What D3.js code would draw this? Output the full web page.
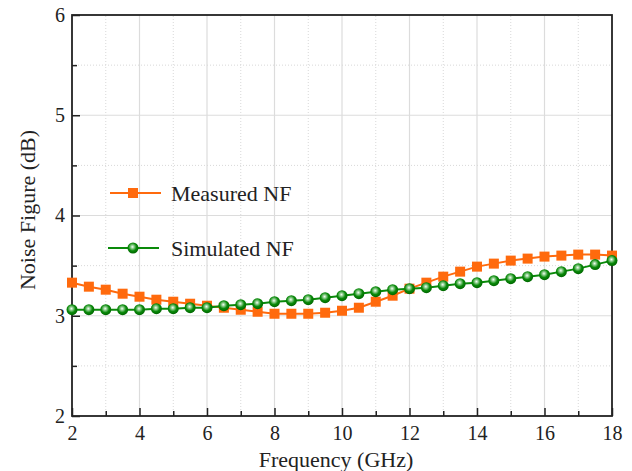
<!DOCTYPE html>
<html>
<head>
<meta charset="utf-8">
<script src="https://cdn.jsdelivr.net/npm/d3@7"></script>
<style>
  html, body { margin: 0; padding: 0; background: #fff; }
  svg { display: block; }
  text { font-family: "Liberation Serif", "Times New Roman", serif; fill: #222; }
</style>
</head>
<body>
<svg id="chart" width="632" height="471"></svg>
<script>
const frequency = [2,2.5,3,3.5,4,4.5,5,5.5,6,6.5,7,7.5,8,8.5,9,9.5,10,10.5,11,11.5,12,12.5,13,13.5,14,14.5,15,15.5,16,16.5,17,17.5,18];
const measuredNF = [3.33,3.29,3.26,3.22,3.19,3.16,3.14,3.12,3.10,3.08,3.06,3.04,3.02,3.02,3.02,3.03,3.05,3.08,3.14,3.20,3.27,3.33,3.39,3.44,3.49,3.52,3.55,3.57,3.59,3.60,3.61,3.61,3.60];
const simulatedNF = [3.06,3.06,3.06,3.06,3.06,3.07,3.07,3.08,3.08,3.10,3.11,3.12,3.14,3.15,3.16,3.18,3.20,3.22,3.24,3.26,3.27,3.28,3.30,3.32,3.33,3.35,3.37,3.39,3.41,3.44,3.47,3.51,3.55];
const xTicks = [2,4,6,8,10,12,14,16,18];
const xMinor = [3,5,7,9,11,13,15,17];
const yTicks = [2,3,4,5,6];
const yMinor = [2.5,3.5,4.5,5.5];
const seriesNames = ["Measured NF", "Simulated NF"];

const svg = d3.select("#chart");
const margin = {left: 72, top: 15, right: 20, bottom: 55};
const W = 632, H = 471;
const x = d3.scaleLinear().domain([2, 18]).range([margin.left, W - margin.right]);
const y = d3.scaleLinear().domain([2, 6]).range([H - margin.bottom, margin.top]);

const defs = svg.append("defs");
const grad = defs.append("radialGradient").attr("id", "ball").attr("cx", "45%").attr("cy", "40%").attr("r", "60%");
grad.append("stop").attr("offset", "0%").attr("stop-color", "#f4fff4");
grad.append("stop").attr("offset", "30%").attr("stop-color", "#7cc47c");
grad.append("stop").attr("offset", "60%").attr("stop-color", "#0a8a0a");
grad.append("stop").attr("offset", "100%").attr("stop-color", "#006600");

// grid
const g = svg.append("g");
g.selectAll(".gmx").data(xMinor).join("line")
  .attr("x1", d => x(d)).attr("x2", d => x(d)).attr("y1", y(2)).attr("y2", y(6))
  .attr("stroke", "#d8d8d8").attr("stroke-width", 1).attr("stroke-dasharray", "1,2");
g.selectAll(".gMx").data(xTicks.slice(1, -1)).join("line")
  .attr("x1", d => x(d)).attr("x2", d => x(d)).attr("y1", y(2)).attr("y2", y(6))
  .attr("stroke", "#dcdcdc").attr("stroke-width", 1.2);
g.selectAll(".gmy").data(yMinor).join("line")
  .attr("y1", d => y(d)).attr("y2", d => y(d)).attr("x1", x(2)).attr("x2", x(18))
  .attr("stroke", "#d8d8d8").attr("stroke-width", 1).attr("stroke-dasharray", "1,2");
g.selectAll(".gMy").data(yTicks.slice(1, -1)).join("line")
  .attr("y1", d => y(d)).attr("y2", d => y(d)).attr("x1", x(2)).attr("x2", x(18))
  .attr("stroke", "#dcdcdc").attr("stroke-width", 1.2);

// axes
const xAxis = d3.axisBottom(x).tickValues(xTicks).tickSize(-8).tickPadding(10).tickFormat(d3.format("d"));
const xAxisMinor = d3.axisBottom(x).tickValues(xMinor).tickSize(-5).tickFormat("");
const yAxis = d3.axisLeft(y).tickValues(yTicks).tickSize(-8).tickPadding(7).tickFormat(d3.format("d"));
const yAxisMinor = d3.axisLeft(y).tickValues(yMinor).tickSize(-5).tickFormat("");

function styleAxis(sel) {
  sel.attr("font-family", null);
  sel.select(".domain").remove();
  sel.selectAll(".tick line").attr("stroke", "#222").attr("stroke-width", 1.5);
  sel.selectAll("text").attr("font-size", 20).attr("fill", "#222");
}
svg.append("g").attr("transform", `translate(0,${y(2)})`).call(xAxis).call(styleAxis);
svg.append("g").attr("transform", `translate(0,${y(2)})`).call(xAxisMinor).call(styleAxis);
svg.append("g").attr("transform", `translate(${x(2)},0)`).call(yAxis).call(styleAxis);
svg.append("g").attr("transform", `translate(${x(2)},0)`).call(yAxisMinor).call(styleAxis);

// frame
svg.append("rect").attr("x", x(2)).attr("y", y(6)).attr("width", x(18) - x(2)).attr("height", y(2) - y(6))
  .attr("fill", "none").attr("stroke", "#222").attr("stroke-width", 1.8);

// series
const measured = frequency.map((f, i) => [f, measuredNF[i]]);
const simulated = frequency.map((f, i) => [f, simulatedNF[i]]);
const line = d3.line().x(d => x(d[0])).y(d => y(d[1]));
const orange = "#ff6a0d", green = "#0a8a0a";

svg.append("path").datum(measured).attr("d", line).attr("fill", "none").attr("stroke", orange).attr("stroke-width", 2);
svg.append("path").datum(simulated).attr("d", line).attr("fill", "none").attr("stroke", green).attr("stroke-width", 2);

svg.selectAll(".sq").data(measured).join("rect")
  .attr("x", d => x(d[0]) - 5).attr("y", d => y(d[1]) - 5).attr("width", 10).attr("height", 10)
  .attr("fill", orange);
svg.selectAll(".ci").data(simulated).join("circle")
  .attr("cx", d => x(d[0])).attr("cy", d => y(d[1])).attr("r", 5.5)
  .attr("fill", "url(#ball)");

// legend
const leg = svg.append("g");
leg.append("line").attr("x1", 110).attr("x2", 161).attr("y1", 193).attr("y2", 193).attr("stroke", orange).attr("stroke-width", 2);
leg.append("rect").attr("x", 128).attr("y", 188).attr("width", 10).attr("height", 10).attr("fill", orange);
leg.append("text").attr("x", 171).attr("y", 200.5).attr("font-size", 22).text(seriesNames[0]);
leg.append("line").attr("x1", 108).attr("x2", 159).attr("y1", 248).attr("y2", 248).attr("stroke", green).attr("stroke-width", 2);
leg.append("circle").attr("cx", 133).attr("cy", 248).attr("r", 5.5).attr("fill", "url(#ball)");
leg.append("text").attr("x", 171).attr("y", 255.5).attr("font-size", 22).text(seriesNames[1]);

// axis titles
svg.append("text").attr("x", 336).attr("y", 467).attr("text-anchor", "middle").attr("font-size", 22).text("Frequency (GHz)");
svg.append("text").attr("transform", `translate(35,210) rotate(-90)`).attr("text-anchor", "middle").attr("font-size", 22).text("Noise Figure (dB)");
</script>
</body>
</html>
